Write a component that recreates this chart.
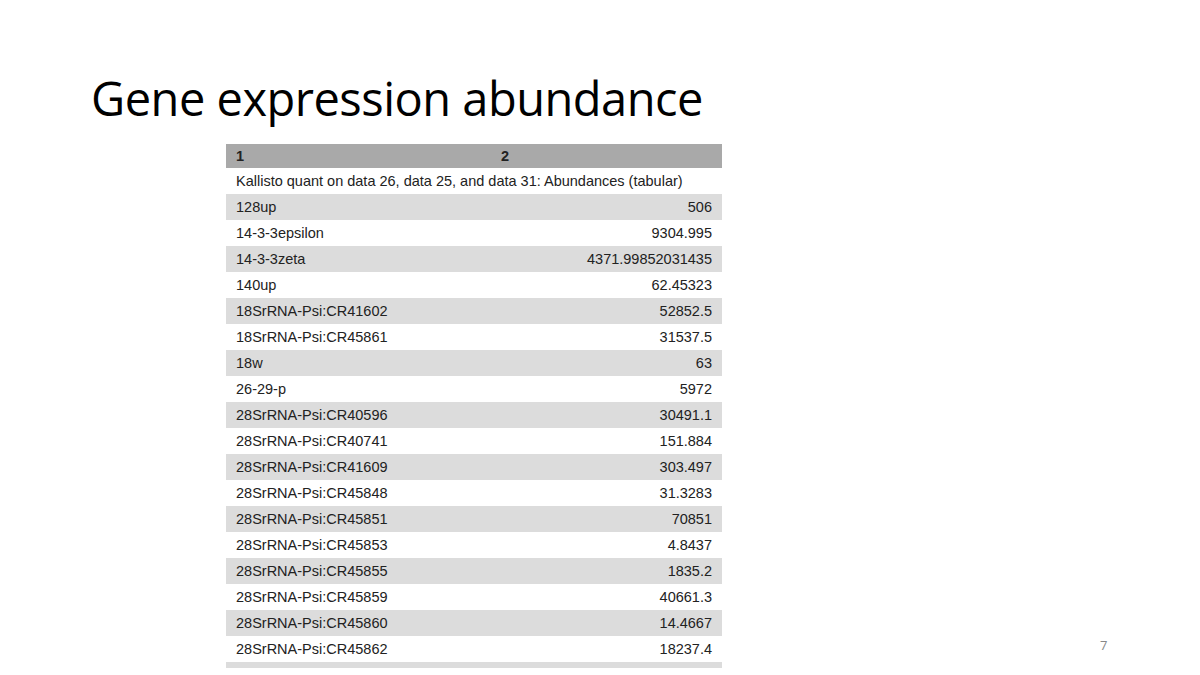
import React from "react";

const HEADERS = ["1", "2"];
const CAPTION = "Kallisto quant on data 26, data 25, and data 31: Abundances (tabular)";
const GENES = [
  "128up", "14-3-3epsilon", "14-3-3zeta", "140up", "18SrRNA-Psi:CR41602", "18SrRNA-Psi:CR45861",
  "18w", "26-29-p", "28SrRNA-Psi:CR40596", "28SrRNA-Psi:CR40741", "28SrRNA-Psi:CR41609",
  "28SrRNA-Psi:CR45848", "28SrRNA-Psi:CR45851", "28SrRNA-Psi:CR45853", "28SrRNA-Psi:CR45855",
  "28SrRNA-Psi:CR45859", "28SrRNA-Psi:CR45860", "28SrRNA-Psi:CR45862", "",
];
const VALUES = [
  "506", "9304.995", "4371.99852031435", "62.45323", "52852.5", "31537.5", "63", "5972",
  "30491.1", "151.884", "303.497", "31.3283", "70851", "4.8437", "1835.2", "40661.3",
  "14.4667", "18237.4", "",
];

const font = "'Liberation Sans', 'DejaVu Sans', sans-serif";

export default function App() {
  return (
    <div style={{ position: "fixed", left: 0, top: 0, width: 1200, height: 675, background: "#fff", overflow: "hidden" }}>
      <div style={{ position: "absolute", left: 91, top: 66, fontFamily: "'Open Sans', sans-serif", fontSize: 47, color: "#000", letterSpacing: -0.5 }}>
        Gene expression abundance
      </div>
      <div style={{ position: "absolute", left: 226, top: 144, width: 496, height: 524, overflow: "hidden", fontFamily: font, fontSize: 14.5, color: "#222" }}>
        <div style={{ height: 24, background: "#a9a9a9", position: "relative", fontWeight: "bold" }}>
          <span style={{ position: "absolute", left: 10, top: 4 }}>{HEADERS[0]}</span>
          <span style={{ position: "absolute", left: 275, top: 4 }}>{HEADERS[1]}</span>
        </div>
        <div style={{ height: 26, lineHeight: "26px", paddingLeft: 10, background: "#fff" }}>{CAPTION}</div>
        {GENES.map((g, i) => (
          <div key={i} style={{ height: 26, lineHeight: "26px", display: "flex", justifyContent: "space-between", padding: "0 10px", background: i % 2 === 0 ? "#dcdcdc" : "#fff" }}>
            <span>{g}</span>
            <span>{VALUES[i]}</span>
          </div>
        ))}
      </div>
      <div style={{ position: "absolute", left: 1100, top: 636, fontFamily: "'Open Sans', sans-serif", fontSize: 13, color: "#888" }}>7</div>
    </div>
  );
}
